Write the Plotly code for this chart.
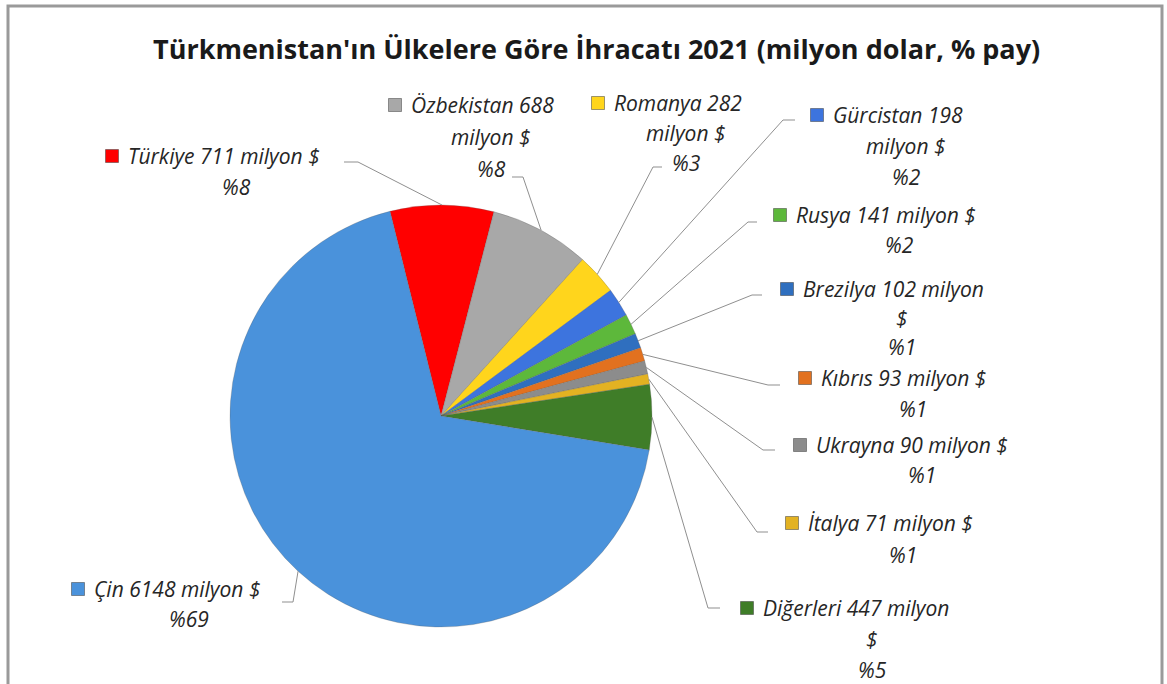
import math
import plotly.graph_objects as go

# ---------------- data ----------------
countries = ["Türkiye", "Özbekistan", "Romanya", "Gürcistan", "Rusya", "Brezilya",
             "Kıbrıs", "Ukrayna", "İtalya", "Diğerleri", "Çin"]
values = [711, 688, 282, 198, 141, 102, 93, 90, 71, 447, 6148]
shares = [8, 8, 3, 2, 2, 1, 1, 1, 1, 5, 69]
colors = ["#FF0000", "#A8A8A8", "#FFD51C", "#3D74DE", "#5DB83B", "#2F6FBF",
          "#E2711F", "#8C8C8C", "#E3B222", "#3F7D28", "#4A92DB"]
title_text = "Türkmenistan'ın Ülkelere Göre İhracatı 2021 (milyon dolar, % pay)"

# ---------------- layout helpers ----------------
W, H = 1167, 684
def px(x):
    return x / W
def py(y):
    return 1 - y / H

CX, CY, R = 441, 416, 211
ROT = -14

# line wrapping of each label (as in the reference)
wraps = [
    ["{n} {v} milyon $", "%{s}"],
    ["{n} {v}", "milyon $", "%{s}"],
    ["{n} {v}", "milyon $", "%{s}"],
    ["{n} {v}", "milyon $", "%{s}"],
    ["{n} {v} milyon $", "%{s}"],
    ["{n} {v} milyon", "$", "%{s}"],
    ["{n} {v} milyon $", "%{s}"],
    ["{n} {v} milyon $", "%{s}"],
    ["{n} {v} milyon $", "%{s}"],
    ["{n} {v} milyon", "$", "%{s}"],
    ["{n} {v} milyon $", "%{s}"],
]
# label placement: left x of first line, centre x of other lines, y of first line, line step
label_pos = [
    (126, 236, 156, 31),
    (409, 491, 105, 32),
    (612, 686, 103, 30),
    (831, 906, 115, 31),
    (794, 899, 215, 30),
    (801, 902, 289, 29),
    (819, 913, 378, 31),
    (814, 922, 445, 30),
    (806, 903, 523, 32),
    (761, 872, 608, 31),
    (92, 189, 589, 30),
]
# leader start (at label) and knee
leaders = [
    [(344, 162), (358, 162)],
    [(512, 177), (523, 177)],
    [(662, 167), (653, 167)],
    [(795, 120), (783, 120)],
    [(757, 222), (748, 222)],
    [(762, 295), (752, 295)],
    [(780, 385), (768, 385)],
    [(775, 450), (763, 450)],
    [(768, 532), (757, 532)],
    [(720, 608), (708, 608)],
    [(282, 602), (293, 602)],
]

fig = go.Figure()
fig.add_trace(go.Pie(
    labels=countries, values=values, sort=False, direction="clockwise",
    rotation=ROT, textinfo="none", hoverinfo="label+value+percent",
    marker=dict(colors=colors, line=dict(color="rgba(90,90,90,0.45)", width=0.6)),
    domain=dict(x=[px(CX - R), px(CX + R)], y=[py(CY + R), py(CY - R)]),
    showlegend=False,
))

annotations = []
shapes = []
font_lbl = dict(family="'Open Sans', sans-serif", size=21, color="#262626")

total = sum(values)
cum = 0
for i, (n, v, s) in enumerate(zip(countries, values, shares)):
    mid = (cum + v / 2) / total
    cum += v
    ang = math.radians(ROT + mid * 360)
    ex, ey = CX + R * math.sin(ang), CY - R * math.cos(ang)

    left, cxl, y0, step = label_pos[i]
    for j, tmpl in enumerate(wraps[i]):
        txt = tmpl.format(n=n, v=v, s=s)
        if j == 0:
            annotations.append(dict(x=px(left), y=py(y0), xref="paper", yref="paper",
                                    text="<i>" + txt + "</i>", showarrow=False,
                                    xanchor="left", yanchor="middle", font=font_lbl))
        else:
            annotations.append(dict(x=px(cxl), y=py(y0 + j * step), xref="paper", yref="paper",
                                    text="<i>" + txt + "</i>", showarrow=False,
                                    xanchor="center", yanchor="middle", font=font_lbl))
    # legend key square
    sx, sy = left - 14, y0
    shapes.append(dict(type="rect", xref="paper", yref="paper",
                       x0=px(sx - 6.5), x1=px(sx + 6.5), y0=py(sy + 6.5), y1=py(sy - 6.5),
                       fillcolor=colors[i], line=dict(color="rgba(60,60,60,0.5)", width=1)))
    # leader line
    pts = leaders[i] + [(ex, ey)]
    path = "M " + " L ".join(f"{px(x)},{py(y)}" for x, y in pts)
    shapes.append(dict(type="path", xref="paper", yref="paper", path=path,
                       line=dict(color="#8f8f8f", width=1)))

# title
annotations.append(dict(x=px(597), y=py(48), xref="paper", yref="paper",
                        text="<b>" + title_text + "</b>", showarrow=False,
                        xanchor="center", yanchor="middle",
                        font=dict(family="'Open Sans', sans-serif", size=27, color="#1a1a1a")))

# chart frame
shapes.append(dict(type="rect", xref="paper", yref="paper",
                   x0=px(8), x1=px(1162), y0=py(700), y1=py(6),
                   line=dict(color="#9a9a9a", width=3), fillcolor="rgba(0,0,0,0)", layer="below"))

fig.update_layout(
    width=W, height=H,
    margin=dict(l=0, r=0, t=0, b=0),
    paper_bgcolor="white", plot_bgcolor="white",
    annotations=annotations, shapes=shapes,
)

fig.write_html("out.html", config={"displayModeBar": False},
               post_script="document.body.style.margin='0px';")
